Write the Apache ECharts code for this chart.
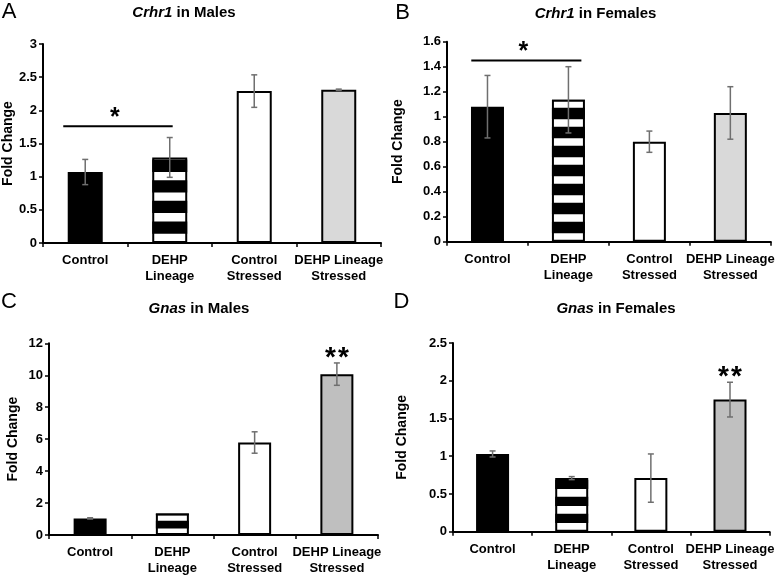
<!DOCTYPE html>
<html><head><meta charset="utf-8">
<script src="https://cdn.jsdelivr.net/npm/echarts@6/dist/echarts.min.js"></script>
<style>html,body{margin:0;padding:0;background:#fff}#c{width:777px;height:577px}</style>
</head><body><div id="c"></div>
<script>
// ---- data ----
const categories = ['Control', 'DEHP\nLineage', 'Control\nStressed', 'DEHP Lineage\nStressed'];
const crhr1MalesMean   = [1.07, 1.29, 2.29, 2.31];
const crhr1MalesErr    = [0.19, 0.30, 0.245, 0.01];
const crhr1FemalesMean = [1.08, 1.135, 0.80, 1.03];
const crhr1FemalesErr  = [0.25, 0.265, 0.085, 0.21];
const gnasMalesMean    = [1.04, 1.35, 5.79, 10.07];
const gnasMalesErr     = [0.04, 0.0, 0.67, 0.70];
const gnasFemalesMean  = [1.03, 0.71, 0.71, 1.75];
const gnasFemalesErr   = [0.04, 0.02, 0.32, 0.23];
const crhr1MalesSig    = [[0, 1, 1.76]];   // bracket from cat, to cat, at value
const crhr1FemalesSig  = [[0, 1, 1.45]];
const gnasMalesStar    = [3];              // "**" above category
const gnasFemalesStar  = [3];
const yTicksMax = [3, 1.6, 12, 2.5];
const yTicksStep = [0.5, 0.2, 2, 0.5];

const FONT = '"Liberation Sans", Arial, Helvetica, sans-serif';
const ERR = '#6f6f6f';

const panels = [
  {mean: crhr1MalesMean, err: crhr1MalesErr, sig: crhr1MalesSig, star: [], sigLabel: '*',
   grid: {left: 42, top: 44, width: 339, height: 199}, bw: 35, gray: '#d9d9d9',
   stripe: {white: 8.3, black: 12.3}, nameGap: 25, bracket: [-0.26, 0.035],
   title: ['Crhr1', ' in Males'], tx: 184, ty: 13, letter: 'A', lx: 9, ly: 12},
  {mean: crhr1FemalesMean, err: crhr1FemalesErr, sig: crhr1FemalesSig, star: [], sigLabel: '*',
   grid: {left: 447, top: 41.7, width: 330, height: 200}, bw: 33, gray: '#d9d9d9',
   stripe: {white: 7.4, black: 11.6}, nameGap: 42, bracket: [-0.2, 0.16],
   title: ['Crhr1', ' in Females'], tx: 595.5, ty: 13.5, letter: 'B', lx: 402.5, ly: 13},
  {mean: gnasMalesMean, err: gnasMalesErr, sig: [], star: gnasMalesStar, sigLabel: '**',
   grid: {left: 49, top: 343.3, width: 329, height: 193.2}, bw: 33, gray: '#bfbfbf',
   stripe: {white: 5.6, black: 7.6}, nameGap: 29, bracket: [0, 0],
   title: ['Gnas', ' in Males'], tx: 199, ty: 308.5, letter: 'C', lx: 9, ly: 302},
  {mean: gnasFemalesMean, err: gnasFemalesErr, sig: [], star: gnasFemalesStar, sigLabel: '**',
   grid: {left: 453, top: 343, width: 320, height: 188.7}, bw: 33, gray: '#c0c0c0',
   stripe: {white: 7.8, black: 9.2}, nameGap: 44, bracket: [0, 0],
   title: ['Gnas', ' in Females'], tx: 616, ty: 309, letter: 'D', lx: 401.5, ly: 302}
];

const grids = [], xAxes = [], yAxes = [], series = [], graphics = [];
panels.forEach((p, k) => {
  grids.push(Object.assign({containLabel: false}, p.grid));
  xAxes.push({
    type: 'category', gridIndex: k, data: categories,
    axisLine: {lineStyle: {color: '#000', width: 2}},
    axisTick: {show: true, length: 4, lineStyle: {color: '#000', width: 1.5}},
    axisLabel: {interval: 0, color: '#000', fontFamily: FONT, fontWeight: 'bold', fontSize: 13, lineHeight: 16.5, margin: 9},
    splitLine: {show: false}
  });
  yAxes.push({
    type: 'value', gridIndex: k, min: 0, max: yTicksMax[k], interval: yTicksStep[k],
    name: 'Fold Change', nameLocation: 'middle', nameGap: p.nameGap,
    nameTextStyle: {color: '#000', fontFamily: FONT, fontWeight: 'bold', fontSize: 14},
    axisLine: {show: true, lineStyle: {color: '#000', width: 2}},
    axisTick: {show: true, length: 4, lineStyle: {color: '#000', width: 1.5}},
    axisLabel: {color: '#000', fontFamily: FONT, fontWeight: 'bold', fontSize: 13, margin: 6},
    splitLine: {show: false}
  });
  const colors = ['#000', '#fff', '#fff', p.gray];
  series.push({
    type: 'bar', xAxisIndex: k, yAxisIndex: k, barWidth: p.bw, z: 2,
    data: p.mean.map((v, j) => ({value: v, itemStyle: {color: colors[j]}})),
    itemStyle: {borderColor: '#000', borderWidth: 2},
    silent: true
  });
  // stripes on the DEHP Lineage bar
  series.push({
    type: 'custom', xAxisIndex: k, yAxisIndex: k, z: 3, silent: true,
    data: [[1, p.mean[1]]],
    renderItem: (params, api) => {
      const base = api.coord([api.value(0), 0]);
      const top = api.coord([api.value(0), api.value(1)]);
      const x = base[0] - p.bw / 2;
      const children = [];
      let y = base[1] - 1, white = true;
      while (y > top[1]) {
        const h = white ? p.stripe.white : p.stripe.black;
        const y2 = Math.max(y - h, top[1]);
        if (!white) children.push({type: 'rect', shape: {x: x, y: y2, width: p.bw, height: y - y2}, style: {fill: '#000'}});
        y -= h; white = !white;
      }
      return {type: 'group', children};
    }
  });
  // error bars
  series.push({
    type: 'custom', xAxisIndex: k, yAxisIndex: k, z: 4, silent: true,
    data: p.mean.map((v, j) => [j, v, p.err[j]]),
    renderItem: (params, api) => {
      const i = api.value(0), m = api.value(1), e = api.value(2);
      if (!(e > 0)) return null;
      const hi = api.coord([i, m + e]), lo = api.coord([i, m - e]);
      const c = 3, st = {stroke: ERR, lineWidth: 1.5};
      return {type: 'group', children: [
        {type: 'line', shape: {x1: hi[0], y1: hi[1], x2: lo[0], y2: lo[1]}, style: st},
        {type: 'line', shape: {x1: hi[0] - c, y1: hi[1], x2: hi[0] + c, y2: hi[1]}, style: st},
        {type: 'line', shape: {x1: lo[0] - c, y1: lo[1], x2: lo[0] + c, y2: lo[1]}, style: st}
      ]};
    }
  });
  // significance brackets
  if (p.sig.length) series.push({
    type: 'custom', xAxisIndex: k, yAxisIndex: k, z: 5, silent: true,
    data: p.sig,
    renderItem: (params, api) => {
      const c0 = api.coord([api.value(0), api.value(2)]);
      const c1 = api.coord([api.value(1), api.value(2)]);
      const band = api.size([1, 0])[0];
      const x0 = c0[0] + p.bracket[0] * band, x1 = c1[0] + p.bracket[1] * band;
      return {type: 'group', children: [
        {type: 'line', shape: {x1: x0, y1: c0[1], x2: x1, y2: c0[1]}, style: {stroke: '#000', lineWidth: 2}},
        {type: 'text', x: (x0 + x1) / 2 - 3, y: c0[1] + 4, style: {text: p.sigLabel, fill: '#000', font: 'bold 25px ' + FONT, textAlign: 'center', textVerticalAlign: 'bottom'}}
      ]};
    }
  });
  // stars above error bars
  if (p.star.length) series.push({
    type: 'custom', xAxisIndex: k, yAxisIndex: k, z: 5, silent: true,
    data: p.star.map(i => [i, p.mean[i] + p.err[i]]),
    renderItem: (params, api) => {
      const c = api.coord([api.value(0), api.value(1)]);
      return {type: 'group', children: [
        {type: 'text', x: c[0] - 6.5, y: c[1] + 9, style: {text: '*', fill: '#000', font: 'bold 28px ' + FONT, textAlign: 'center', textVerticalAlign: 'bottom'}},
        {type: 'text', x: c[0] + 6.5, y: c[1] + 9, style: {text: '*', fill: '#000', font: 'bold 28px ' + FONT, textAlign: 'center', textVerticalAlign: 'bottom'}}
      ]};
    }
  });
  graphics.push({
    type: 'text', x: p.tx, y: p.ty, silent: true,
    style: {
      text: '{i|' + p.title[0] + '}{n|' + p.title[1] + '}',
      textAlign: 'center', textVerticalAlign: 'middle',
      rich: {
        i: {fontStyle: 'italic', fontWeight: 'bold', fontSize: 15, fontFamily: FONT, fill: '#000'},
        n: {fontWeight: 'bold', fontSize: 15, fontFamily: FONT, fill: '#000'}
      }
    }
  });
  graphics.push({
    type: 'text', x: p.lx, y: p.ly, silent: true,
    style: {text: p.letter, font: '22px ' + FONT, fill: '#000', textAlign: 'center', textVerticalAlign: 'middle'}
  });
});

const chart = echarts.init(document.getElementById('c'), null, {renderer: 'canvas'});
chart.setOption({
  animation: false,
  backgroundColor: '#fff',
  grid: grids, xAxis: xAxes, yAxis: yAxes, series: series,
  graphic: graphics
});
</script>
</body></html>
